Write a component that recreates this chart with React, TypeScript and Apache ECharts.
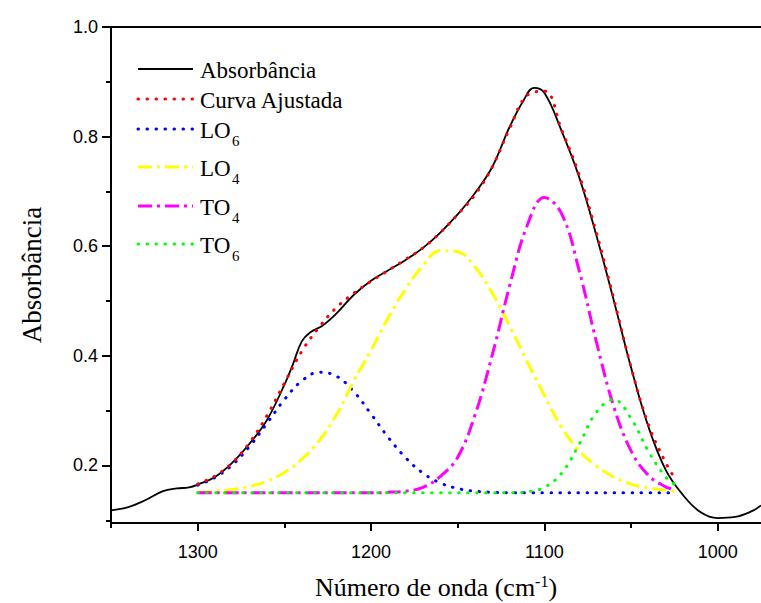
import React, { useEffect, useRef } from "react";
import * as echarts from "echarts";

// Measured spectrum (black line)
const absX = [1350, 1340, 1330, 1320, 1312, 1305, 1300, 1290, 1280, 1270, 1260, 1250, 1245, 1240, 1235, 1228, 1220, 1210, 1200, 1190, 1180, 1170, 1160, 1150, 1140, 1130, 1120, 1112, 1106, 1100, 1090, 1080, 1070, 1060, 1050, 1040, 1030, 1020, 1010, 1000, 990, 980, 975];
const absY = [0.118, 0.124, 0.137, 0.153, 0.158, 0.160, 0.165, 0.179, 0.205, 0.240, 0.283, 0.347, 0.385, 0.426, 0.443, 0.455, 0.477, 0.511, 0.537, 0.556, 0.575, 0.597, 0.625, 0.658, 0.697, 0.745, 0.818, 0.866, 0.889, 0.880, 0.810, 0.727, 0.620, 0.502, 0.379, 0.271, 0.192, 0.146, 0.115, 0.104, 0.106, 0.117, 0.127];

// Fitted components share the same wavenumbers
const fitX = [1300, 1290, 1280, 1270, 1260, 1250, 1240, 1230, 1220, 1210, 1200, 1190, 1180, 1170, 1160, 1150, 1140, 1130, 1120, 1110, 1100, 1090, 1080, 1070, 1060, 1050, 1040, 1030, 1025];
const fitY = [0.166, 0.181, 0.205, 0.242, 0.291, 0.350, 0.408, 0.452, 0.488, 0.514, 0.536, 0.556, 0.576, 0.597, 0.625, 0.658, 0.694, 0.745, 0.815, 0.875, 0.883, 0.812, 0.731, 0.625, 0.505, 0.380, 0.275, 0.205, 0.178];
const lo6Y = [0.164, 0.178, 0.201, 0.235, 0.277, 0.320, 0.354, 0.370, 0.363, 0.335, 0.294, 0.251, 0.214, 0.186, 0.168, 0.158, 0.153, 0.151, 0.150, 0.150, 0.150, 0.150, 0.150, 0.150, 0.150, 0.150, 0.150, 0.150, 0.150];
const lo4Y = [0.151, 0.153, 0.156, 0.162, 0.171, 0.187, 0.211, 0.245, 0.292, 0.354, 0.410, 0.470, 0.522, 0.565, 0.592, 0.590, 0.562, 0.514, 0.454, 0.390, 0.328, 0.269, 0.227, 0.199, 0.179, 0.166, 0.159, 0.155, 0.153];
const to4Y = [0.150, 0.150, 0.150, 0.150, 0.150, 0.150, 0.150, 0.150, 0.150, 0.150, 0.150, 0.151, 0.153, 0.160, 0.180, 0.215, 0.292, 0.402, 0.528, 0.637, 0.689, 0.659, 0.557, 0.426, 0.308, 0.227, 0.182, 0.161, 0.156];
const to6Y = [0.150, 0.150, 0.150, 0.150, 0.150, 0.150, 0.150, 0.150, 0.150, 0.150, 0.150, 0.150, 0.150, 0.150, 0.150, 0.150, 0.150, 0.150, 0.150, 0.152, 0.160, 0.186, 0.238, 0.297, 0.320, 0.286, 0.226, 0.179, 0.166];

const xMajorTicks = [1300, 1200, 1100, 1000];
const xMinorTicks = [1350, 1250, 1150, 1050];
const yMajorTicks = [0.2, 0.4, 0.6, 0.8, 1.0];
const yMinorTicks = [0.1, 0.3, 0.5, 0.7, 0.9];

const pairs = (xs: number[], ys: number[]) => xs.map((x, i) => [x, ys[i]]);

const SERIF = "'Liberation Serif', 'Times New Roman', serif";
const SANS = "'Liberation Sans', Arial, sans-serif";

const DOT = [0.5, 8.5];
const DASHDOT = [14, 5, 3, 5];

const legendItems = [
  { name: "Absorbância", sub: "", color: "#000000", dash: null as number[] | null, width: 1.8, y: 69 },
  { name: "Curva Ajustada", sub: "", color: "#ff0000", dash: DOT, width: 3, y: 99 },
  { name: "LO", sub: "6", color: "#0000ff", dash: DOT, width: 3, y: 129 },
  { name: "LO", sub: "4", color: "#ffff00", dash: DASHDOT, width: 3, y: 167 },
  { name: "TO", sub: "4", color: "#ff00ff", dash: DASHDOT, width: 3, y: 206 },
  { name: "TO", sub: "6", color: "#00ff00", dash: DOT, width: 3, y: 244 },
];

export default function App() {
  const ref = useRef<HTMLDivElement>(null);
  useEffect(() => {
    if (!ref.current) return;
    const chart = echarts.init(ref.current, null, { renderer: "svg" });

    const graphics: any[] = [];
    legendItems.forEach((it) => {
      graphics.push({
        type: "line",
        shape: { x1: 138, y1: it.y, x2: 193, y2: it.y },
        style: {
          stroke: it.color,
          lineWidth: it.width,
          lineDash: it.dash || undefined,
          lineCap: it.dash === DOT ? "round" : "butt",
        },
      });
      graphics.push({
        type: "text",
        x: 200,
        y: it.y + 1,
        style: { text: it.name, fontFamily: SERIF, fontSize: 23, fill: "#000", verticalAlign: "middle", align: "left" },
      });
      if (it.sub) {
        graphics.push({
          type: "text",
          x: 232,
          y: it.y + 12,
          style: { text: it.sub, fontFamily: SERIF, fontSize: 15, fill: "#000", verticalAlign: "middle", align: "left" },
        });
      }
    });

    const lineSeries = (name: string, data: number[][], color: string, width: number, type: any, smooth: number | boolean) => ({
      name,
      type: "line",
      data,
      symbol: "none",
      smooth,
      xAxisIndex: 0,
      yAxisIndex: 0,
      lineStyle: { color, width, type, cap: type === DOT ? "round" : "butt" },
      itemStyle: { color },
      silent: true,
    });

    chart.setOption({
      animation: false,
      backgroundColor: "#ffffff",
      grid: { left: 111, top: 27, right: 0, bottom: 80, containLabel: false, outerBoundsMode: "none" },
      xAxis: [
        {
          type: "value",
          inverse: true,
          min: 975,
          max: 1350,
          position: "bottom",
          axisLine: { show: true, lineStyle: { color: "#000", width: 2 } },
          axisTick: { show: true, customValues: xMajorTicks, length: 8, lineStyle: { color: "#000", width: 2 } },
          axisLabel: {
            customValues: xMajorTicks,
            color: "#000",
            fontFamily: SANS,
            fontSize: 18,
            margin: 20,
            formatter: (v: number) => String(Math.round(v)),
          },
          splitLine: { show: false },
          name: "{a|Número de onda (cm}{b|-1}{a|)}",
          nameLocation: "middle",
          nameGap: 50,
          nameTextStyle: {
            rich: {
              a: { fontFamily: SERIF, fontSize: 26, color: "#000", lineHeight: 28 },
              b: { fontFamily: SERIF, fontSize: 16, color: "#000", verticalAlign: "top", lineHeight: 16 },
            },
          },
        },
        {
          type: "value",
          inverse: true,
          min: 975,
          max: 1350,
          position: "bottom",
          axisLine: { show: false },
          axisTick: { show: true, customValues: xMinorTicks, length: 5, lineStyle: { color: "#000", width: 2 } },
          axisLabel: { show: false },
          splitLine: { show: false },
        },
        {
          type: "value",
          inverse: true,
          min: 975,
          max: 1350,
          position: "top",
          axisLine: { show: true, lineStyle: { color: "#000", width: 2 } },
          axisTick: { show: false },
          axisLabel: { show: false },
          splitLine: { show: false },
        },
      ],
      yAxis: [
        {
          type: "value",
          min: 0.095,
          max: 1.0,
          position: "left",
          axisLine: { show: true, lineStyle: { color: "#000", width: 2 } },
          axisTick: { show: true, customValues: yMajorTicks, length: 9, lineStyle: { color: "#000", width: 2 } },
          axisLabel: {
            customValues: yMajorTicks,
            color: "#000",
            fontFamily: SANS,
            fontSize: 18,
            margin: 13,
            formatter: (v: number) => v.toFixed(1),
          },
          splitLine: { show: false },
          name: "Absorbância",
          nameLocation: "middle",
          nameRotate: 90,
          nameGap: 66,
          nameTextStyle: { fontFamily: SERIF, fontSize: 27, color: "#000" },
        },
        {
          type: "value",
          min: 0.095,
          max: 1.0,
          position: "left",
          axisLine: { show: false },
          axisTick: { show: true, customValues: yMinorTicks, length: 5, lineStyle: { color: "#000", width: 2 } },
          axisLabel: { show: false },
          splitLine: { show: false },
        },
      ],
      series: [
        lineSeries("Absorbância", pairs(absX, absY), "#000000", 1.8, "solid", 0.4),
        lineSeries("LO6", pairs(fitX, lo6Y), "#0000ff", 3, DOT, 0.4),
        lineSeries("LO4", pairs(fitX, lo4Y), "#ffff00", 3, DASHDOT, 0.4),
        lineSeries("TO4", pairs(fitX, to4Y), "#ff00ff", 3, DASHDOT, 0.4),
        lineSeries("TO6", pairs(fitX, to6Y), "#00ff00", 3, DOT, 0.4),
        lineSeries("Curva Ajustada", pairs(fitX, fitY), "#ff0000", 3, DOT, 0.4),
      ],
      graphic: graphics,
    });
    return () => chart.dispose();
  }, []);
  return <div ref={ref} style={{ position: "absolute", left: 0, top: 0, width: 761, height: 603 }} />;
}
